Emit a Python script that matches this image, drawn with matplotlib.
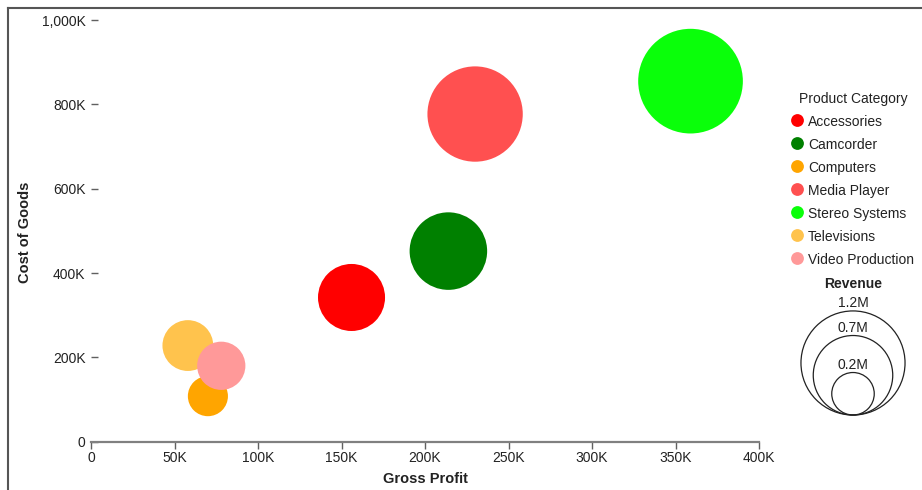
import numpy as np
import matplotlib
matplotlib.use('Agg')
import matplotlib.pyplot as plt
from matplotlib.patches import Circle
from matplotlib.ticker import FuncFormatter

plt.rcParams['font.family'] = ['Liberation Sans', 'DejaVu Sans']

# data (values in thousands)
categories = ['Accessories', 'Camcorder', 'Computers', 'Media Player',
              'Stereo Systems', 'Televisions', 'Video Production']
gross_profit = [156, 214, 70, 230, 359, 58, 78]
cost_of_goods = [342, 452, 108, 777, 855, 228, 180]
revenue = [498, 666, 178, 1007, 1214, 286, 258]
colors = ['#ff0000', '#008000', '#ffa500', '#ff5050', '#0aff0a', '#ffc34d', '#ff9999']
size_legend = [1.2, 0.7, 0.2]   # millions

# radius in px per sqrt(revenue in M)
R_SCALE = 47.5
W, H = 922, 490
FS = 10
TXT = '#222222'

fig = plt.figure(figsize=(W / 100, H / 100), dpi=100)
ax = fig.add_axes([91 / W, (H - 441.7) / H, 668 / W, 421.7 / H])

rev_m = np.array(revenue) / 1000.0
sizes = (2 * R_SCALE * np.sqrt(rev_m) * 0.72) ** 2
ax.scatter(np.array(gross_profit) * 1000, np.array(cost_of_goods) * 1000,
           s=sizes, c=colors, linewidths=0, zorder=3, clip_on=False)

ax.set_xlim(0, 400000)
ax.set_ylim(0, 1000000)
ax.set_xticks(np.arange(0, 400001, 50000))
ax.set_yticks(np.arange(0, 1000001, 200000))


def kfmt(v, pos):
    if v == 0:
        return '0'
    return '{:,.0f}K'.format(v / 1000)


ax.xaxis.set_major_formatter(FuncFormatter(kfmt))
ax.yaxis.set_major_formatter(FuncFormatter(kfmt))

for s in ['top', 'right', 'left']:
    ax.spines[s].set_visible(False)
ax.spines['bottom'].set_color('#808080')
ax.spines['bottom'].set_linewidth(1.6)
ax.tick_params(axis='x', direction='out', length=5, width=1, color='#606060',
               labelsize=FS, pad=2, labelcolor=TXT)
ax.tick_params(axis='y', direction='in', length=5, width=1, color='#606060',
               labelsize=FS, pad=4, labelcolor=TXT)
ax.set_facecolor('none')

fig.text(425 / W, 1 - 479 / H, 'Gross Profit', ha='center', va='center',
         fontsize=10.5, fontweight='bold', color=TXT)
fig.text(25 / W, 1 - 232 / H, 'Cost of Goods', ha='center', va='center',
         rotation=90, fontsize=10.5, fontweight='bold', color=TXT)

# overlay in pixel coordinates for frame and legend
ov = fig.add_axes([0, 0, 1, 1], zorder=-1)
ov.set_xlim(0, W)
ov.set_ylim(H, 0)
ov.axis('off')
ov.plot([7.5, W], [8.5, 8.5], color='#555555', lw=1.5)
ov.plot([7.5, 7.5], [8.5, H], color='#555555', lw=1.5)

ov2 = fig.add_axes([0, 0, 1, 1], zorder=5)
ov2.set_xlim(0, W)
ov2.set_ylim(H, 0)
ov2.axis('off')

ov2.text(853, 97, 'Product Category', ha='center', va='center_baseline',
         fontsize=FS, color=TXT)
for i, (cat, col) in enumerate(zip(categories, colors)):
    y = 120 + i * 23
    ov2.scatter([797], [y], s=85, color=col, linewidths=0)
    ov2.text(808, y, cat, ha='left', va='center_baseline', fontsize=FS, color=TXT)

ov2.text(853, 282, 'Revenue', ha='center', va='center_baseline', fontsize=FS,
         fontweight='bold', color=TXT)
bottom = 415
for v in size_legend:
    r = R_SCALE * np.sqrt(v)
    ov2.add_patch(Circle((853, bottom - r), r, fill=False, ec=TXT, lw=0.9))
    ov2.text(853, bottom - 2 * r - 1, '{}M'.format(v), ha='center',
             va='bottom', fontsize=FS, color=TXT)

fig.savefig('out.png', dpi=100, facecolor='white')
